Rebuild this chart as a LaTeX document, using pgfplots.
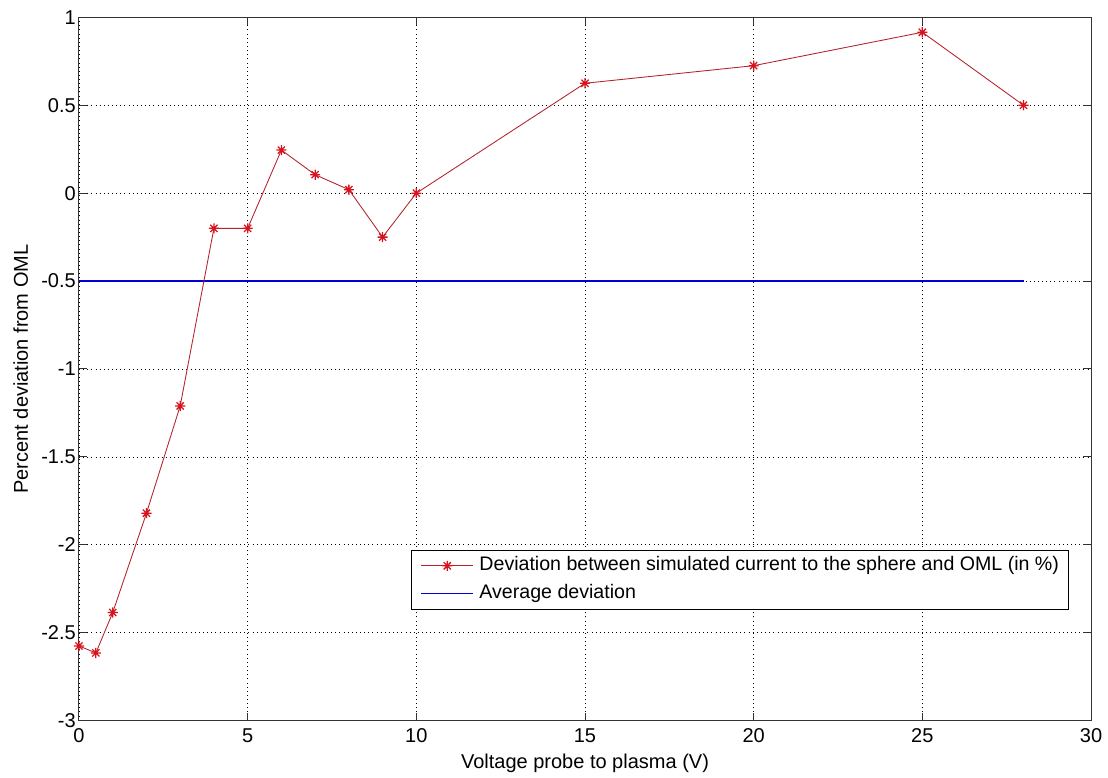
\documentclass[border=0pt]{standalone}
\usepackage{fontspec}
\setmainfont{Liberation Sans}
\usepackage{pgfplots}
\pgfplotsset{compat=1.18}
\newcommand\mfont{\fontsize{15}{18}\selectfont}
\definecolor{mred}{RGB}{215,20,30}
\definecolor{mline}{RGB}{180,35,45}
\definecolor{mblue}{RGB}{0,0,215}
\pgfdeclareplotmark{mstar}{%
  \pgfpathmoveto{\pgfqpoint{-\pgfplotmarksize}{0pt}}\pgfpathlineto{\pgfqpoint{\pgfplotmarksize}{0pt}}%
  \pgfpathmoveto{\pgfqpoint{0pt}{-\pgfplotmarksize}}\pgfpathlineto{\pgfqpoint{0pt}{\pgfplotmarksize}}%
  \pgfpathmoveto{\pgfqpoint{-0.707\pgfplotmarksize}{-0.707\pgfplotmarksize}}\pgfpathlineto{\pgfqpoint{0.707\pgfplotmarksize}{0.707\pgfplotmarksize}}%
  \pgfpathmoveto{\pgfqpoint{-0.707\pgfplotmarksize}{0.707\pgfplotmarksize}}\pgfpathlineto{\pgfqpoint{0.707\pgfplotmarksize}{-0.707\pgfplotmarksize}}%
  \pgfusepathqstroke}
\begin{document}
\begin{tikzpicture}
\begin{axis}[
  scale only axis,
  width=759pt, height=527.5pt,
  xmin=0, xmax=30, ymin=-3, ymax=1,
  xtick={0,5,...,30},
  ytick={-3,-2.5,...,1},
  /pgf/number format/assume math mode=true,
  tick label style={font=\mfont},
  label style={font=\mfont},
  xticklabel style={anchor=base, yshift=-16.7pt, inner sep=0pt},
  yticklabel style={anchor=east, xshift=-2.25pt, inner sep=0pt},
  tick align=inside,
  major tick length=5.75pt,
  axis line style={line width=0.75pt, black!80},
  tick style={black!80, line width=0.75pt},
  grid=major,
  major grid style={black, line width=0.6pt, dash pattern=on 0.7pt off 2.4pt},
  xlabel={Voltage probe to plasma (V)},
  ylabel={Percent deviation from OML},
  xlabel style={at={(axis description cs:0.5,0)}, anchor=base, yshift=-35.7pt, inner sep=0pt},
  ylabel style={at={(axis description cs:-0.0504,0.5)}, anchor=base, inner sep=0pt},
  legend cell align=left,
  reverse legend,
  legend style={at={(axis cs:9.83,-2.029)}, anchor=north west,
    font=\fontsize{14.7}{17}\selectfont,
    draw=black, line width=0.75pt, fill=white,
    inner xsep=7pt, inner ysep=4.7pt,
    nodes={inner sep=0pt, text height=10.7pt, text depth=3pt},
    row sep=7.3pt, column sep=4pt},
  legend image code/.code={\draw[mark repeat=2,mark phase=2,#1] plot coordinates {(0cm,0cm)(0.69cm,0cm)(1.38cm,0cm)};},
]
\addplot[draw=mblue, mark=none, line width=1pt] coordinates {(0,-0.5) (28,-0.5)};
\addlegendentry{Average deviation}
\addplot[mline, line width=0.65pt, mark=mstar, mark size=3.8pt,
  mark options={draw=mred, line width=0.95pt}] coordinates {
  (0,-2.575) (0.5,-2.615) (1,-2.385) (2,-1.82) (3,-1.21) (4,-0.2) (5,-0.2)
  (6,0.245) (7,0.105) (8,0.02) (9,-0.25) (10,0.0) (15,0.625) (20,0.725)
  (25,0.915) (28,0.5)};
\addlegendentry{Deviation between simulated current to the sphere and OML (in \%)}
\end{axis}
\path ([shift={(-59.25pt,-43pt)}]current axis.south west) rectangle ([shift={(12.75pt,13pt)}]current axis.north east);
\end{tikzpicture}
\end{document}
